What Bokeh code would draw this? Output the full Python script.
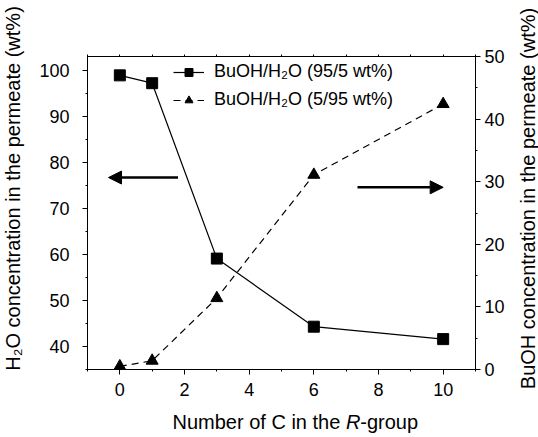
import math
from bokeh.plotting import figure
from bokeh.layouts import row, column
from bokeh.models import (Range1d, LinearAxis, SingleIntervalTicker, Arrow, NormalHead,
                          Legend, LegendItem)
from bokeh.core.properties import value
from bokeh.embed import file_html
from bokeh.resources import INLINE

# ---- data ----
carbons = [0, 1, 3, 6, 10]
h2o_conc = [98.9, 97.2, 59.1, 44.3, 41.6]      # BuOH/H2O (95/5 wt%), left axis
buoh_conc = [0.5, 1.4, 11.4, 31.1, 42.4]       # BuOH/H2O (5/95 wt%), right axis
series_labels = ["BuOH/H\u2082O (95/5 wt%)", "BuOH/H\u2082O (5/95 wt%)"]
left_label = "H\u2082O concentration in the permeate (wt%)"
right_label = "BuOH concentration in the permeate (wt%)"
x_label_parts = ["Number of C in the ", "R", "-group"]

FONT = "Liberation Sans"

# layout sizes (pixels)
W, H = 538, 437
LW, RW = 32, 28          # side strips for the rotated axis titles
BH = 32                  # bottom strip for the x-axis title
MW, MH = W - LW - RW, H - BH

p = figure(width=MW, height=MH, output_backend="svg", toolbar_location=None,
           x_range=Range1d(-1, 11), y_range=Range1d(35, 103),
           min_border_left=87 - LW, min_border_right=(LW + MW) - 475,
           min_border_top=56, min_border_bottom=MH - 369)
p.extra_y_ranges = {"right": Range1d(0, 50)}
p.background_fill_color = "white"
p.border_fill_color = "white"
p.outline_line_color = "black"
p.xgrid.visible = False
p.ygrid.visible = False

def style(ax, standoff):
    ax.axis_line_color = "black"
    ax.major_tick_line_color = "black"
    ax.minor_tick_line_color = "black"
    ax.major_tick_in = 0
    ax.major_tick_out = 5
    ax.minor_tick_in = 0
    ax.minor_tick_out = 2
    ax.major_label_text_font = FONT
    ax.major_label_text_font_size = "18px"
    ax.major_label_text_color = "black"
    ax.major_label_standoff = standoff
    ax.axis_label = None

xa = p.xaxis[0]
xa.ticker = SingleIntervalTicker(interval=2, num_minor_ticks=2)
style(xa, 8)

ya = p.yaxis[0]
ya.ticker = SingleIntervalTicker(interval=10, num_minor_ticks=2)
style(ya, 13)

ra = LinearAxis(y_range_name="right", ticker=SingleIntervalTicker(interval=10, num_minor_ticks=2))
style(ra, 4)
p.add_layout(ra, "right")

ta = LinearAxis(ticker=SingleIntervalTicker(interval=1, num_minor_ticks=0))
style(ta, 0)
ta.major_tick_out = 2
ta.major_label_text_font_size = "0px"
ta.major_label_text_alpha = 0
p.add_layout(ta, "above")

# series
l1 = p.line(carbons, h2o_conc, line_color="black", line_width=1.2)
s1 = p.scatter(carbons, h2o_conc, marker="square", size=11, fill_color="black", line_color="black")
l2 = p.line(carbons, buoh_conc, y_range_name="right", line_color="black", line_width=1.2, line_dash="7 5")
s2 = p.scatter(carbons, buoh_conc, y_range_name="right", marker="triangle", size=12,
               fill_color="black", line_color="black")

# arrows
p.add_layout(Arrow(end=NormalHead(size=13, fill_color="black", line_color="black"),
                   x_start=1.8, y_start=76.7, x_end=-0.35, y_end=76.7,
                   line_width=2.5, line_color="black"))
p.add_layout(Arrow(end=NormalHead(size=13, fill_color="black", line_color="black"),
                   x_start=7.35, y_start=29.1, x_end=10.0, y_end=29.1, y_range_name="right",
                   line_width=2.5, line_color="black"))

legend = Legend(items=[LegendItem(label=series_labels[0], renderers=[l1, s1]),
                       LegendItem(label=series_labels[1], renderers=[l2, s2])],
                location=(86, 259), orientation="vertical")
legend.border_line_color = None
legend.background_fill_alpha = 0
legend.padding = 0
legend.margin = 0
legend.spacing = 7
legend.glyph_width = 31
legend.glyph_height = 20
legend.label_height = 20
legend.label_standoff = 10
legend.label_text_font = FONT
legend.label_text_font_size = "18px"
legend.label_text_color = "black"
p.add_layout(legend, "center")


def strip(w, h):
    f = figure(width=w, height=h, output_backend="svg", toolbar_location=None,
               x_range=Range1d(0, w), y_range=Range1d(0, h),
               x_axis_location=None, y_axis_location=None,
               min_border=0, min_border_left=0, min_border_right=0,
               min_border_top=0, min_border_bottom=0)
    try:
        f.frame_align = False
    except Exception:
        pass
    f.outline_line_color = None
    f.xgrid.visible = False
    f.ygrid.visible = False
    f.background_fill_color = "white"
    f.border_fill_color = "white"
    return f

def put(f, x, y, text, align="center", angle=0.0, style_="normal"):
    f.text(x=[x], y=[y], text=[text], angle=angle, text_align=align, text_baseline="middle",
           text_font=value(FONT), text_font_size=value("20px"),
           text_font_style=style_, text_color="black")

# left axis title (reads bottom-to-top), centred near page x=12, y=188
lf = strip(LW, MH)
put(lf, 12, MH - 188, left_label, angle=math.pi / 2)

# right axis title, centred near page x=527, y=198
rf = strip(RW, MH)
put(rf, 527 - (LW + MW), MH - 198, right_label, angle=math.pi / 2)

# bottom x-axis title with italic R, starting near page x=172
bf = strip(W, BH)
x0 = 172
w_first, w_r = 173.4, 14.4
put(bf, x0 + w_first, BH / 2, x_label_parts[0], align="right")
put(bf, x0 + w_first, BH / 2, x_label_parts[1], align="left", style_="italic")
put(bf, x0 + w_first + w_r, BH / 2, x_label_parts[2], align="left")

layout = column(row(column(lf), p, column(rf), spacing=0), bf, spacing=0)

open("out.html", "w").write(file_html(layout, INLINE))
